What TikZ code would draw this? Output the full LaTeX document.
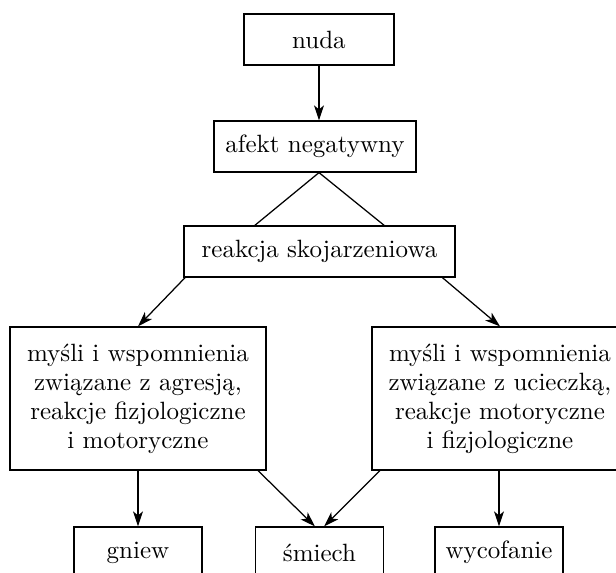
\documentclass[tikz,border=0pt]{standalone}
\usepackage{tikz}
\usetikzlibrary{arrows.meta}

\tikzset{
  box/.style={draw, rectangle, line width=0.5pt, inner sep=0pt, align=center,
    minimum height=20.4pt, font=\fontsize{10}{11.6}\selectfont},
  wide/.style={box, minimum width=102.4pt, minimum height=57.2pt},
  small/.style={box, minimum width=51.2pt},
  arr/.style={line width=0.5pt, -{Stealth[length=6pt, width=4pt, inset=1.6pt]}}
}

\begin{document}
\begin{tikzpicture}[x=0.4pt, y=-0.4pt]
  \useasboundingbox (0,0) rectangle (616,573);
  \clip (0,0) rectangle (616,573);
  \node[box, minimum width=60pt] (nuda) at (319,39.5) {nuda};
  \node[box, minimum width=80.8pt] (afekt) at (315,146.5) {afekt negatywny};
  \node[box, minimum width=108.4pt] (reakcja) at (319.5,251.5) {reakcja skojarzeniowa};
  \node[wide] (agresja) at (138,398.5)
    {myśli i wspomnienia\\związane z agresją,\\reakcje fizjologiczne\\i motoryczne};
  \node[wide] (ucieczka) at (500,398.5)
    {myśli i wspomnienia\\związane z ucieczką,\\reakcje motoryczne\\i fizjologiczne};
  \node[small] (gniew) at (138,552.5) {gniew};
  \node[small] (smiech) at (319.5,552.5) {śmiech};
  \node[small] (wycofanie) at (499,552.5) {wycofanie};

  \draw[arr] (nuda.south) -- (nuda.south |- afekt.north);
  \draw[line width=0.5pt] (reakcja.158) -- (nuda.south |- afekt.south) -- (reakcja.22);
  \draw[arr] (reakcja.191) -- (agresja.north);
  \draw[arr] (reakcja.348) -- (ucieczka.north);
  \draw[arr] (agresja.south) -- (gniew.north);
  \draw[arr] (agresja.329) -- (smiech.100);
  \draw[arr] (ucieczka.211) -- (smiech.80);
  \draw[arr] (ucieczka.south -| wycofanie.north) -- (wycofanie.north);
\end{tikzpicture}
\end{document}
